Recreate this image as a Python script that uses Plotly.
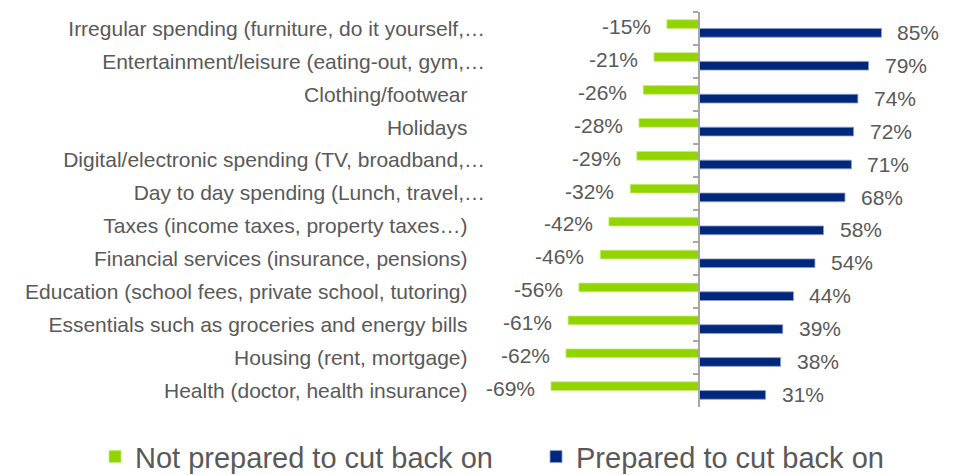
import plotly.graph_objects as go

categories = [
    "Irregular spending (furniture, do it yourself,…",
    "Entertainment/leisure (eating-out, gym,…",
    "Clothing/footwear",
    "Holidays",
    "Digital/electronic spending (TV, broadband,…",
    "Day to day spending (Lunch, travel,…",
    "Taxes (income taxes, property taxes…)",
    "Financial services (insurance, pensions)",
    "Education (school fees, private school, tutoring)",
    "Essentials such as groceries and energy bills",
    "Housing (rent, mortgage)",
    "Health (doctor, health insurance)",
]
not_prepared = [-15, -21, -26, -28, -29, -32, -42, -46, -56, -61, -62, -69]
prepared = [85, 79, 74, 72, 71, 68, 58, 54, 44, 39, 38, 31]
series_names = ["Not prepared to cut back on", "Prepared to cut back on"]

GREEN = "#92D400"
BLUE = "#00287A"
TEXT = "#595959"
FONT = "Liberation Sans, Arial, sans-serif"

fig = go.Figure()
fig.add_trace(go.Bar(
    y=categories, x=not_prepared, orientation="h", name=series_names[0],
    marker=dict(color=GREEN, line=dict(color="#C4EC7A", width=0.8)),
    hoverinfo="x+y",
))
fig.add_trace(go.Bar(
    y=categories, x=prepared, orientation="h", name=series_names[1],
    marker=dict(color=BLUE, line=dict(color="#8AA0D0", width=0.8)),
    hoverinfo="x+y",
))
# invisible helper trace so the zero-positioned axis (ticks + line) is drawn
fig.add_trace(go.Scatter(
    y=categories, x=[0] * len(categories), yaxis="y2", mode="markers",
    marker=dict(opacity=0), showlegend=False, hoverinfo="skip",
))

annotations = []
for c, v in zip(categories, not_prepared):
    annotations.append(dict(x=v, y=c, xref="x", yref="y", text=f"{v}%",
                            showarrow=False, xanchor="right", yanchor="middle",
                            xshift=-14, yshift=2,
                            font=dict(size=21, color=TEXT, family=FONT)))
for c, v in zip(categories, prepared):
    annotations.append(dict(x=v, y=c, xref="x", yref="y", text=f"{v}%",
                            showarrow=False, xanchor="left", yanchor="middle",
                            xshift=14, yshift=-4,
                            font=dict(size=21, color=TEXT, family=FONT)))

xmin, xmax = -97.4, 116
zero_pos = (0 - xmin) / (xmax - xmin)

ticktext = [c if c.endswith("…") else c + "\u00a0\u00a0\u00a0" for c in categories]

fig.update_layout(
    width=950, height=467,
    margin=dict(l=482, r=10, t=4, b=68, autoexpand=False),
    paper_bgcolor="white", plot_bgcolor="white",
    barmode="group", bargap=0.47, bargroupgap=0,
    font=dict(family=FONT, color=TEXT, size=21),
    xaxis=dict(range=[xmin, xmax], showgrid=False, zeroline=False,
               showticklabels=False, showline=False, ticks="",
               automargin=False),
    yaxis=dict(type="category", categoryorder="array", categoryarray=categories,
               range=[len(categories) - 0.5, -0.5], showgrid=False,
               showline=False, ticks="", tickmode="array",
               tickvals=categories, ticktext=ticktext,
               ticklabelstandoff=4, automargin=False,
               tickfont=dict(size=21, color=TEXT, family=FONT)),
    yaxis2=dict(type="category", categoryorder="array", categoryarray=categories,
                overlaying="y", anchor="free", position=zero_pos, side="left",
                range=[len(categories) - 0.5, -0.5], showgrid=False,
                showline=True, linecolor="#A6A6A6", linewidth=1.5,
                ticks="outside", tickson="boundaries", ticklen=5,
                tickcolor="#A6A6A6", tickwidth=1.5, showticklabels=False,
                automargin=False),
    legend=dict(orientation="h", xref="paper", yref="paper",
                x=-0.8624, xanchor="left", y=-0.126, yanchor="middle",
                entrywidth=396, entrywidthmode="pixels",
                font=dict(size=29, color=TEXT, family=FONT),
                traceorder="normal"),
    annotations=annotations,
    showlegend=True,
)

fig.write_html("out.html")
